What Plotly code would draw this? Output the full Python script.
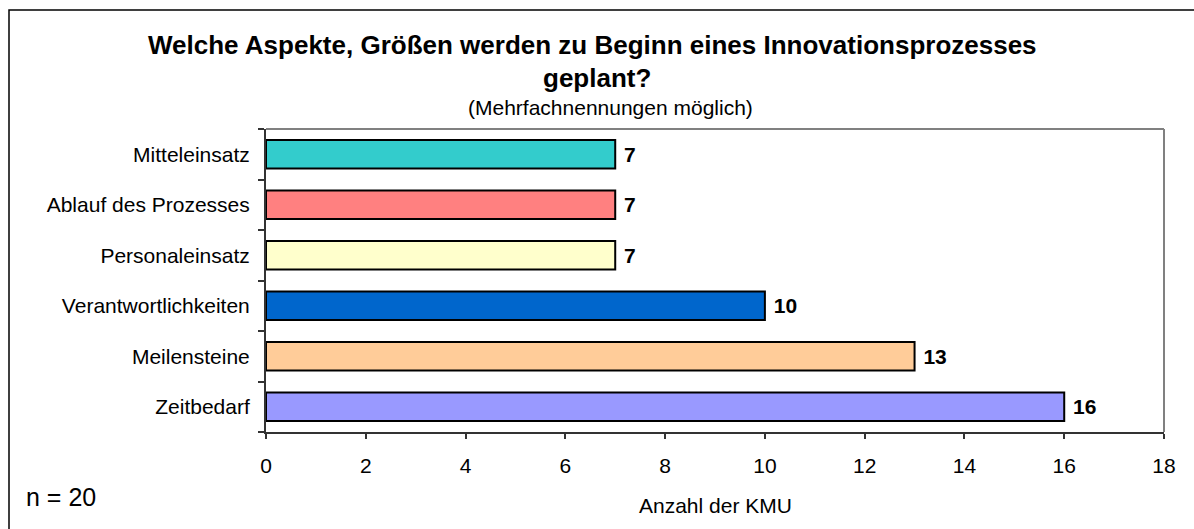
import plotly.graph_objects as go

categories = ["Zeitbedarf", "Meilensteine", "Verantwortlichkeiten",
              "Personaleinsatz", "Ablauf des Prozesses", "Mitteleinsatz"]
values = [16, 13, 10, 7, 7, 7]
colors = ["#9999FF", "#FFCC99", "#0066CC", "#FFFFCC", "#FF8080", "#33CCCC"]
x_ticks = [0, 2, 4, 6, 8, 10, 12, 14, 16, 18]

title1 = "Welche Aspekte, Größen werden zu Beginn eines Innovationsprozesses"
title2 = "geplant?"
subtitle = "(Mehrfachnennungen möglich)"
x_title = "Anzahl der KMU"
n_note = "n = 20"

W, H = 1194, 529
L, R, T, B = 266, 1164, 129, 432  # plot area in pixels


def px(xp):
    return (xp - L) / (R - L)


def py(yp):
    return (B - yp) / (B - T)


FONT = "Liberation Sans, Arial, sans-serif"

fig = go.Figure(go.Bar(
    x=values, y=categories, orientation="h",
    marker=dict(color=colors, line=dict(color="#000000", width=2)),
    text=[f"<b>\u00a0{v}</b>" for v in values],
    textposition="outside",
    textfont=dict(family=FONT, size=21, color="#000000"),
    cliponaxis=False,
    width=0.56,
))

fig.update_layout(
    width=W, height=H,
    margin=dict(l=L, r=W - R, t=T, b=H - B),
    paper_bgcolor="#FFFFFF", plot_bgcolor="#FFFFFF",
    showlegend=False,
    font=dict(family=FONT, size=21, color="#000000"),
    xaxis=dict(
        range=[0, 18], tickvals=x_ticks, ticks="outside", ticklen=5,
        tickcolor="#333333", tickwidth=2, showline=True, linecolor="#333333",
        linewidth=2, showgrid=False, zeroline=False,
        tickfont=dict(size=21), ticklabelstandoff=9,
    ),
    yaxis=dict(
        categoryorder="array", categoryarray=categories,
        ticks="outside", tickson="boundaries", ticklen=6, tickcolor="#333333",
        tickwidth=2, showline=True, linecolor="#333333", linewidth=2,
        showgrid=False, zeroline=False, tickfont=dict(size=21),
        ticklabelstandoff=10, range=[-0.5, 5.5],
    ),
    shapes=[
        # plot area frame (top and right, grey)
        dict(type="line", xref="paper", yref="paper", x0=0, x1=1, y0=1, y1=1,
             line=dict(color="#808080", width=2)),
        dict(type="line", xref="paper", yref="paper", x0=1, x1=1, y0=0, y1=1,
             line=dict(color="#808080", width=2)),
        # outer chart border
        dict(type="rect", xref="paper", yref="paper",
             x0=px(9), x1=px(1200), y0=py(10), y1=py(540),
             line=dict(color="#000000", width=1.5), layer="below"),
    ],
    annotations=[
        dict(text=f"<b>{title1}</b>", xref="paper", yref="paper",
             x=px(592), y=py(45), showarrow=False, xanchor="center",
             yanchor="middle", font=dict(size=26)),
        dict(text=f"<b>{title2}</b>", xref="paper", yref="paper",
             x=px(597), y=py(78), showarrow=False, xanchor="center",
             yanchor="middle", font=dict(size=26)),
        dict(text=subtitle, xref="paper", yref="paper",
             x=px(610), y=py(107), showarrow=False, xanchor="center",
             yanchor="middle", font=dict(size=21)),
        dict(text=x_title, xref="paper", yref="paper",
             x=px(715), y=py(505), showarrow=False, xanchor="center",
             yanchor="middle", font=dict(size=21)),
        dict(text=n_note, xref="paper", yref="paper",
             x=px(24), y=py(497), showarrow=False, xanchor="left",
             yanchor="middle", font=dict(size=25)),
    ],
)

fig.write_html(
    "out.html",
    config={"displayModeBar": False},
    post_script="document.body.style.margin='0';document.body.style.overflow='hidden';",
)
